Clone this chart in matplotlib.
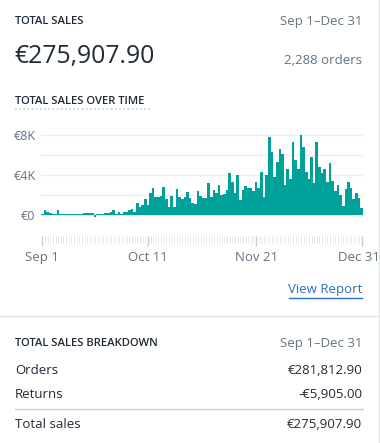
import matplotlib.pyplot as plt
from matplotlib.lines import Line2D
from matplotlib.transforms import ScaledTranslation
import numpy as np

# daily total sales in thousands of euros, Sep 1 - Dec 31
sep = [0.1, 0.45, 0.3, 0.2, 0.1, 0.1, 0.45, 0.1, 0.1, 0.1,
       0.1, 0.1, 0.1, 0.1, 0.1, 0.1, 0.2, 0.2, 0.2, 0.15,
       -0.25, 0.1, 0.1, 0.1, 0.15, 0.2, 0.3, 0.5, 0.1, 0.3]
oct_ = [0.1, 0.3, 0.3, 0.45, 0.55, 0.3, 1.2, 0.8, 1.0, 1.6,
        1.0, 2.2, 2.7, 1.8, 1.8, 1.9, 2.75, 1.6, 0.8, 1.9,
        0.8, 2.6, 1.8, 1.6, 1.75, 2.3, 1.7, 1.2, 1.1, 2.4,
        1.9]
nov = [1.7, 1.7, 3.2, 1.8, 2.5, 2.2, 3.0, 2.0, 2.1, 2.5,
       4.2, 3.3, 2.2, 4.0, 1.5, 2.5, 2.9, 2.7, 2.7, 2.4,
       3.3, 2.7, 4.3, 1.8, 4.0, 7.8, 6.3, 3.8, 5.3, 6.6]
dec = [6.1, 3.0, 4.6, 3.6, 7.3, 5.5, 4.6, 8.0, 6.8, 4.3,
       3.6, 5.8, 3.2, 7.3, 4.8, 4.2, 4.6, 3.3, 5.2, 3.4,
       2.4, 3.0, 2.0, 0.9, 2.6, 3.3, 2.7, 1.6, 2.2, 1.7,
       0.7]
sales = np.array(sep + oct_ + nov + dec)
days = np.arange(len(sales))

tick_pos = [0, 40, 81, 121]
tick_labels = ["Sep 1", "Oct 11", "Nov 21", "Dec 31"]
ytick_vals = [0, 4, 8]
ytick_labels = ["€0", "€4K", "€8K"]

breakdown_labels = ["Orders", "Returns", "Total sales"]
breakdown_values = ["€281,812.90", "-€5,905.00", "€275,907.90"]

W, H = 380, 443
dark = "#212b36"
gray = "#637381"
teal = "#00a19b"
plt.rcParams['font.family'] = ['Open Sans', 'DejaVu Sans']

fig = plt.figure(figsize=(W / 100, H / 100), dpi=100)
fig.patch.set_facecolor("white")


def fx(x):
    return x / W


def fy(y):
    return 1 - y / H


def txt(x, y, s, size=9.5, color=dark, ha="left", **kw):
    fig.text(fx(x), fy(y), s, fontsize=size, color=color, ha=ha, va="center", **kw)


# header
txt(15, 21, "TOTAL SALES", size=8.1, weight="semibold")
txt(362, 21, "Sep 1–Dec 31", color=gray, ha="right")
txt(14, 57, "€275,907.90", size=17.8)
txt(362, 60, "2,288 orders", color=gray, ha="right")
txt(15, 101, "TOTAL SALES OVER TIME", size=8.1, weight="semibold")
fig.add_artist(Line2D([fx(15), fx(151)], [fy(109), fy(109)], color="#c4cdd5",
                      lw=1.2, ls=(0, (1, 1.5))))

# chart
left, right, top, bottom = 41, 363, 130, 236
ax = fig.add_axes([fx(left), fy(bottom), fx(right - left), (bottom - top) / H])
ax.set_facecolor("none")
ax.bar(days, sales, width=1.0, color=teal, zorder=3, linewidth=0)
ax.set_xlim(-0.5, len(sales) - 0.5)
ax.set_ylim(-2.1, 8.5)
for g in [0, 2, 4, 6, 8]:
    ax.axhline(g, color="#ebeef0", lw=1, zorder=1)
for s in ax.spines.values():
    s.set_visible(False)
ax.set_yticks(ytick_vals)
ax.set_yticklabels(ytick_labels, color=gray, fontsize=9)
ax.tick_params(axis="y", length=0, pad=4)
ax.set_xticks(tick_pos)
ax.set_xticklabels(tick_labels, color=gray, fontsize=9.5)
ax.set_xticks(days, minor=True)
ax.tick_params(axis="x", which="major", length=7, width=1, color="#c4cdd5", pad=4)
ax.tick_params(axis="x", which="minor", length=5, width=0.6, color="#e2e6ea")
last = ax.get_xticklabels()[-1]
last.set_transform(last.get_transform() + ScaledTranslation(-0.03, 0, fig.dpi_scale_trans))

# link
txt(362, 290, "View Report", color="#2c6ecb", ha="right")
fig.add_artist(Line2D([fx(289), fx(362)], [fy(298), fy(298)], color="#2c6ecb", lw=1))

# separators
fig.add_artist(Line2D([0, fx(379)], [fy(316), fy(316)], color="#dfe3e8", lw=1))
fig.add_artist(Line2D([fx(379), fx(379)], [0, 1], color="#e4e6e8", lw=1))

# breakdown
txt(15, 343, "TOTAL SALES BREAKDOWN", size=8.1, weight="semibold")
txt(362, 343, "Sep 1–Dec 31", color=gray, ha="right")
for lab, val, y in zip(breakdown_labels, breakdown_values, [370, 395, 424]):
    txt(15, y, lab)
    txt(362, y, val, ha="right")
fig.add_artist(Line2D([fx(15), fx(363)], [fy(409), fy(409)], color="#c4cdd5", lw=1))

fig.savefig("out.png", dpi=100, facecolor="white")
